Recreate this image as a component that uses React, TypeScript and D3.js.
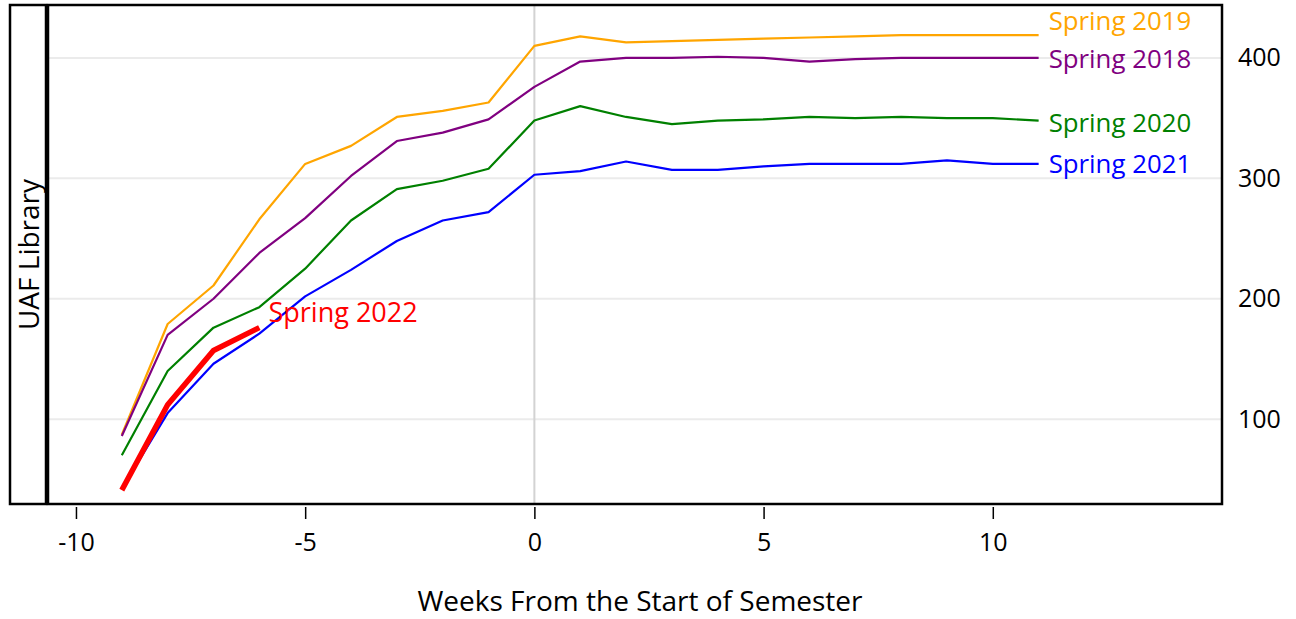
/* eslint-disable */
import React, { useRef, useEffect } from "react";
import * as d3 from "d3";

// Weeks relative to the start of the semester
const weeks = [-9, -8, -7, -6, -5, -4, -3, -2, -1, 0, 1, 2, 3, 4, 5, 6, 7, 8, 9, 10, 11];

// Cumulative counts per spring semester
const spring2019 = [87, 179, 211, 266, 312, 327, 351, 356, 363, 410, 418, 413, 414, 415, 416, 417, 418, 419, 419, 419, 419];
const spring2018 = [86, 170, 200, 238, 267, 302, 331, 338, 349, 376, 397, 400, 400, 401, 400, 397, 399, 400, 400, 400, 400];
const spring2020 = [70, 140, 176, 193, 225, 265, 291, 298, 308, 348, 360, 351, 345, 348, 349, 351, 350, 351, 350, 350, 348];
const spring2021 = [42, 105, 146, 171, 202, 224, 248, 265, 272, 303, 306, 314, 307, 307, 310, 312, 312, 312, 315, 312, 312];
const spring2022 = [41, 112, 157, 176];

const seriesNames = ["Spring 2019", "Spring 2018", "Spring 2020", "Spring 2021"];
const seriesColors = ["orange", "purple", "green", "blue"];
const seriesLabelY = [431.5, 400, 347, 313];

const currentName = "Spring 2022";
const currentLabelPos: [number, number] = [-5.8, 189.5];

const xTicks = [-10, -5, 0, 5, 10];
const yTicks = [100, 200, 300, 400];
const stripLabel = "UAF Library";
const xTitle = "Weeks From the Start of Semester";

const FONT = "'Open Sans', 'Noto Sans', sans-serif";

const App = () => {
  const svgRef = useRef<SVGSVGElement>(null);

  useEffect(() => {
    if (!svgRef.current) return;
    const svg = d3.select(svgRef.current);
    svg.selectAll("*").remove();

    const width = 1296;
    const height = 619;
    const panelLeft = 48;
    const panelRight = 1222;
    const panelTop = 5;
    const panelBottom = 504;
    const stripLeft = 10;

    const x = d3.scaleLinear([-10.61, 15.0], [panelLeft, panelRight]);
    const y = d3.scaleLinear([29.5, 444], [panelBottom, panelTop]);

    svg
      .attr("viewBox", [0, 0, width, height])
      .attr("width", width)
      .attr("height", height)
      .style("font-family", FONT);

    // gridlines
    svg
      .append("g")
      .selectAll("line")
      .data(yTicks)
      .join("line")
      .attr("x1", panelLeft)
      .attr("x2", panelRight)
      .attr("y1", (d) => y(d))
      .attr("y2", (d) => y(d))
      .attr("stroke", "#ebebeb")
      .attr("stroke-width", 2);

    // reference line at week 0
    svg
      .append("line")
      .attr("x1", x(0))
      .attr("x2", x(0))
      .attr("y1", panelTop)
      .attr("y2", panelBottom)
      .attr("stroke", "#d3d3d3")
      .attr("stroke-width", 2);

    const line = d3
      .line<number>()
      .x((_, i) => x(weeks[i]))
      .y((d) => y(d));

    const allSeries = [spring2019, spring2018, spring2020, spring2021];

    const lines = svg.append("g");
    allSeries.forEach((vals, k) => {
      lines
        .append("path")
        .attr("fill", "none")
        .attr("stroke", seriesColors[k])
        .attr("stroke-width", 2.2)
        .attr("stroke-linejoin", "round")
        .attr("d", line(vals));

      svg
        .append("text")
        .attr("x", x(weeks[weeks.length - 1]) + 10)
        .attr("y", y(seriesLabelY[k]))
        .attr("dominant-baseline", "central")
        .attr("fill", seriesColors[k])
        .attr("font-size", 25.8)
        .text(seriesNames[k]);
    });

    // current semester
    lines
      .append("path")
      .attr("fill", "none")
      .attr("stroke", "red")
      .attr("stroke-width", 5.5)
      .attr("d", line(spring2022));

    svg
      .append("text")
      .attr("x", x(currentLabelPos[0]))
      .attr("y", y(currentLabelPos[1]))
      .attr("dominant-baseline", "central")
      .attr("fill", "red")
      .attr("font-size", 27)
      .text(currentName);

    // panel border
    svg
      .append("rect")
      .attr("x", panelLeft)
      .attr("y", panelTop)
      .attr("width", panelRight - panelLeft)
      .attr("height", panelBottom - panelTop)
      .attr("fill", "none")
      .attr("stroke", "black")
      .attr("stroke-width", 2.5);

    // strip
    svg
      .append("rect")
      .attr("x", stripLeft)
      .attr("y", panelTop)
      .attr("width", panelLeft - stripLeft - 2)
      .attr("height", panelBottom - panelTop)
      .attr("fill", "none")
      .attr("stroke", "black")
      .attr("stroke-width", 2.5);

    svg
      .append("text")
      .attr("transform", `translate(${(stripLeft + panelLeft) / 2 - 1},${(panelTop + panelBottom) / 2}) rotate(-90)`)
      .attr("text-anchor", "middle")
      .attr("dominant-baseline", "central")
      .attr("font-size", 28)
      .attr("fill", "black")
      .text(stripLabel);

    // x axis
    const xAxis = svg
      .append("g")
      .attr("transform", `translate(0,${panelBottom + 3})`)
      .call(
        d3
          .axisBottom(x)
          .tickValues(xTicks)
          .tickSize(12)
          .tickPadding(14)
          .tickFormat((d) => String(d))
      )
      .call((g) => g.select(".domain").remove());
    xAxis.selectAll(".tick line").attr("stroke", "black").attr("stroke-width", 1.5);
    xAxis
      .selectAll(".tick text")
      .attr("fill", "black")
      .attr("font-size", 25)
      .attr("font-family", FONT);

    // y axis on the right
    const yAxis = svg
      .append("g")
      .attr("transform", `translate(${panelRight},0)`)
      .call(d3.axisRight(y).tickValues(yTicks).tickSize(0).tickPadding(16))
      .call((g) => g.select(".domain").remove());
    yAxis
      .selectAll(".tick text")
      .attr("fill", "black")
      .attr("font-size", 25)
      .attr("font-family", FONT);

    svg
      .append("text")
      .attr("x", (panelLeft + panelRight) / 2 + 5)
      .attr("y", 600)
      .attr("text-anchor", "middle")
      .attr("dominant-baseline", "central")
      .attr("font-size", 28)
      .attr("fill", "black")
      .text(xTitle);
  }, []);

  return (
    <svg
      ref={svgRef}
      style={{ position: "absolute", left: 0, top: 0, background: "white" }}
    ></svg>
  );
};

export default App;
